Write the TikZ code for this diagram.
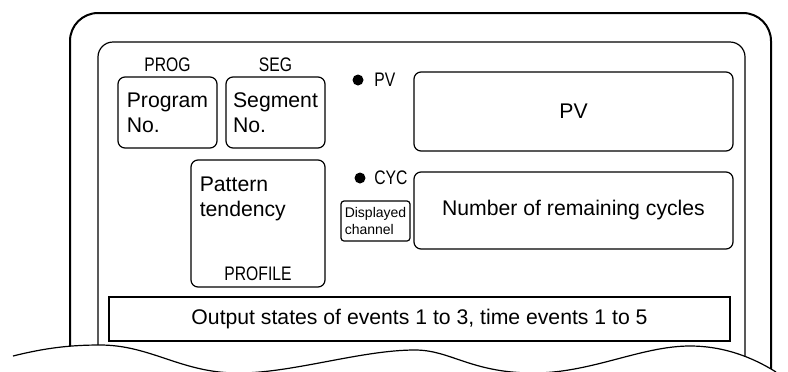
\documentclass[tikz,border=0pt]{standalone}
\usepackage{fontspec}
\setmainfont{Liberation Sans}
\newfontfamily\narrowfont{Liberation Sans}[FakeStretch=0.8]
\usepackage{tikz}
\usetikzlibrary{positioning}

\tikzset{
  body/.style={font=\fontsize{10.6}{12.5}\selectfont},
  panel/.style={draw,line width=0.6pt,rounded corners=3.5pt,inner sep=0pt,body},
  tag/.style={inner sep=0pt,font=\narrowfont\fontsize{9.8}{11}\selectfont},
  lamp/.style={circle,fill,inner sep=0pt,minimum size=5.5pt}
}

\begin{document}
\begin{tikzpicture}[x=0.5pt,y=-0.5pt,node distance=2pt]
\useasboundingbox (0,0) rectangle (788,371);
\draw[line width=1pt,rounded corners=14pt] (70,380) -- (70,13) -- (771,13) -- (771,380);
\draw[line width=0.6pt,rounded corners=7.5pt] (98,380) -- (98,42) -- (745,42) -- (745,380);

\node (prog) [panel,minimum width=49.5pt,minimum height=35.5pt,align=left] at (167.5,112.5) {Program\\No.};
\node (seg) [panel,minimum width=49.5pt,minimum height=35.5pt,align=left] at (275.5,112.5) {Segment\\No.};
\node (progtag) [tag,above=2pt of prog] {PROG};
\node (segtag) [tag,above=2pt of seg] {SEG};

\node (pat) [panel,minimum width=67pt,minimum height=63.5pt] at (258,223.5) {};
\node (tend) [body,inner sep=0pt,align=left,below right=8.5pt and 4.5pt of pat.north west] {Pattern\\tendency};
\node (profile) [tag,above=3.5pt of pat.south] {PROFILE};

\node (pvlamp) [lamp] at (358,80) {};
\node (pvtag) [tag,right=5pt of pvlamp] {PV};
\node (cyclamp) [lamp] at (360,178) {};
\node (cyctag) [tag,right=4pt of cyclamp] {CYC};

\node (pv) [panel,minimum width=159.5pt,minimum height=39.5pt] at (573.5,111.5) {PV};
\node (cyc) [panel,minimum width=159.5pt,minimum height=38.5pt] at (573.5,210.5) {Number of remaining cycles};
\node (chan) [panel,rounded corners=1.5pt,minimum width=34.5pt,minimum height=20pt,align=left,font=\fontsize{7}{8.5}\selectfont] at (375.5,221) {Displayed\\channel};
\node (out) [panel,rounded corners=0pt,minimum width=310.5pt,minimum height=22pt] at (419.5,319) {Output states of events 1 to 3, time events 1 to 5};

\fill[white] (13,356) .. controls (45,348) and (70,345) .. (100,345) .. controls (150,345) and (180,372) .. (235,373) .. controls (290,374) and (360,350) .. (415,350) .. controls (450,350) and (470,372) .. (530,373) .. controls (590,374) and (640,346) .. (690,346) .. controls (730,346) and (760,362) .. (776,372) -- (790,390) -- (0,390) -- cycle;
\draw[line width=0.6pt] (13,356) .. controls (45,348) and (70,345) .. (100,345) .. controls (150,345) and (180,372) .. (235,373) .. controls (290,374) and (360,350) .. (415,350) .. controls (450,350) and (470,372) .. (530,373) .. controls (590,374) and (640,346) .. (690,346) .. controls (730,346) and (760,362) .. (776,372);
\end{tikzpicture}
\end{document}
